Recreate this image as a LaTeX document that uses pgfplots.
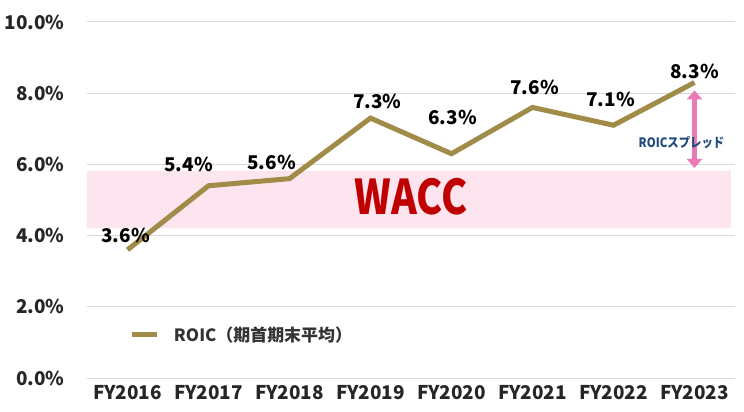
\documentclass[border=0pt]{standalone}
\usepackage{fontspec}
\setmainfont{Noto Sans CJK JP}
\usepackage{pgfplots}
\usepackage{pgfplotstable}
\pgfplotsset{compat=1.18}
\usetikzlibrary{arrows.meta}

\definecolor{roicline}{RGB}{160,139,72}
\definecolor{waccband}{RGB}{252,229,238}
\definecolor{waccred}{RGB}{192,0,0}
\definecolor{spreadpink}{RGB}{232,122,182}
\definecolor{spreadblue}{RGB}{31,73,125}
\definecolor{gridgray}{RGB}{217,217,217}

% x, ROIC %, label offsets (pt)
\pgfplotstableread{
x  y    dx   dy
0  3.6  -2   14
1  5.4  -20  21
2  5.6  -18  16
3  7.3  7    17
4  6.3  1    36
5  7.6  2    20
6  7.1  -3   26
7  8.3  0    11
}\roic

\begin{document}
\begin{tikzpicture}
\begin{axis}[
  scale only axis,
  width=648bp, height=356bp,
  xmin=-0.5, xmax=7.5,
  ymin=0, ymax=10,
  ytick={0,2,...,10},
  xtick={0,...,7},
  xticklabels={FY2016,FY2017,FY2018,FY2019,FY2020,FY2021,FY2022,FY2023},
  yticklabel={\pgfmathprintnumber[fixed,fixed zerofill,precision=1]{\tick}\%},
  /pgf/number format/assume math mode=true,
  ticklabel style={font=\fontsize{19}{22}\selectfont\bfseries, text=black!85},
  yticklabel style={xshift=-19bp},
  xticklabel style={yshift=-4bp},
  axis line style={draw=none},
  major tick length=0pt,
  ymajorgrids, grid style={gridgray, line width=1pt},
  clip=false,
  legend style={at={(rel axis cs:0.066,0.121)}, anchor=west, draw=none, fill=none,
    font=\fontsize{17}{20}\selectfont\bfseries, text=black!80, inner sep=0pt},
  legend image code/.code={\draw[#1, line width=5bp] (0bp,0bp) -- (25bp,0bp);},
  legend cell align=left,
]
\addplot[draw=none, fill=waccband, forget plot] coordinates {(-0.5,4.2) (7.45,4.2) (7.45,5.82) (-0.5,5.82)} \closedcycle;
\addplot[roicline, line width=5bp, mark=none,
  visualization depends on={\thisrow{dx} \as \dx},
  visualization depends on={\thisrow{dy} \as \dy},
  nodes near coords={\pgfmathprintnumber[fixed,fixed zerofill,precision=1]{\pgfplotspointmeta}\%},
  nodes near coords style={anchor=center, xshift=\dx, yshift=\dy, text=black,
    font=\fontsize{19}{22}\selectfont\bfseries},
] table[x=x, y=y] {\roic};
\addlegendentry{\hspace{12bp}ROIC（期首期末平均）}
\draw[spreadpink, line width=5bp, {Triangle[width=15bp,length=9bp]}-{Triangle[width=15bp,length=9bp]}]
  (axis cs:7,8.08) -- (axis cs:7,5.9);
\node[text=spreadblue, font=\fontsize{13}{15}\selectfont\bfseries, xscale=0.88] at (axis cs:6.84,6.6) {ROICスプレッド};
\node[text=waccred, font=\fontsize{48}{52}\selectfont\bfseries, xscale=0.82] at (axis cs:3.5,5.1) {WACC};
\coordinate (sw) at (rel axis cs:0,0);
\end{axis}
\pgfresetboundingbox
\path ([shift={(-87bp,-34bp)}]sw) rectangle ([shift={(657bp,378bp)}]sw);
\end{tikzpicture}
\end{document}
